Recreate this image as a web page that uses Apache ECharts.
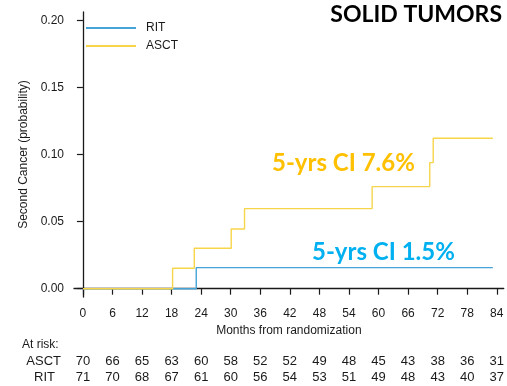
<!DOCTYPE html>
<html>
<head>
<meta charset="utf-8">
<script src="https://cdn.jsdelivr.net/npm/echarts@6/dist/echarts.min.js"></script>
<style>
html,body{margin:0;padding:0;background:#fff;}
#chart{width:507px;height:386px;}
</style>
</head>
<body>
<div id="chart"></div>
<script>
// Data
const monthTicks = [0, 6, 12, 18, 24, 30, 36, 42, 48, 54, 60, 66, 72, 78, 84];
const probTicks = [0, 0.05, 0.10, 0.15, 0.20];
const ritCurve = [[0, 0], [23.0, 0.0157], [83.2, 0.0157]];
const asctCurve = [[0, 0], [18.2, 0.0152], [22.6, 0.0301], [30.1, 0.0445], [32.8, 0.0597], [58.7, 0.0761], [70.4, 0.0940], [71.1, 0.1122], [83.2, 0.1122]];
const asctAtRisk = [70, 66, 65, 63, 60, 58, 52, 52, 49, 48, 45, 43, 38, 36, 31];
const ritAtRisk = [71, 70, 68, 67, 61, 60, 56, 54, 53, 51, 49, 48, 43, 40, 37];

const chart = echarts.init(document.getElementById('chart'));
const F = '"Liberation Sans", Arial, sans-serif';
const axisColor = '#1a1a1a';
const xMin = -1.813, xMax = 85.41;

function riskAxis(values, offset) {
  return {
    type: 'value', min: xMin, max: xMax, position: 'bottom', offset: offset,
    axisLine: {show: false}, axisTick: {show: false}, splitLine: {show: false},
    axisLabel: {
      customValues: monthTicks, margin: 0, fontFamily: F, fontSize: 13, color: '#1a1a1a',
      formatter: v => { const i = monthTicks.indexOf(Math.round(v)); return i >= 0 ? String(values[i]) : ''; }
    }
  };
}

chart.setOption({
  animation: false,
  grid: {left: 74, right: 0, top: 12, bottom: 89},
  legend: {
    data: ['RIT', 'ASCT'], orient: 'vertical', left: 85, top: 22, padding: 0,
    itemWidth: 50, itemHeight: 14, itemGap: 6,
    itemStyle: {opacity: 0},
    textStyle: {fontFamily: F, fontSize: 12, color: '#1a1a1a', padding: [0, 0, 0, 5]}
  },
  xAxis: [{
    type: 'value', min: xMin, max: xMax,
    name: 'Months from randomization', nameLocation: 'middle', nameGap: 23,
    nameTextStyle: {fontFamily: F, fontSize: 12, color: '#1a1a1a'},
    axisLine: {lineStyle: {color: axisColor, width: 1.3}},
    axisTick: {customValues: monthTicks, length: 6, lineStyle: {color: axisColor, width: 1.2}},
    axisLabel: {customValues: monthTicks, margin: 11, fontFamily: F, fontSize: 12, color: '#1a1a1a'},
    splitLine: {show: false}
  }, riskAxis(asctAtRisk, 58), riskAxis(ritAtRisk, 74)],
  yAxis: {
    type: 'value', min: -0.0062, max: 0.2063,
    name: 'Second Cancer (probability)', nameLocation: 'middle', nameGap: 40,
    nameTextStyle: {fontFamily: F, fontSize: 12, color: '#1a1a1a'},
    axisLine: {show: true, lineStyle: {color: axisColor, width: 1.3}},
    axisTick: {show: true, customValues: probTicks, length: 6, lineStyle: {color: axisColor, width: 1.2}},
    axisLabel: {customValues: probTicks, margin: 10, fontFamily: F, fontSize: 12, color: '#1a1a1a',
      formatter: v => v.toFixed(2)},
    splitLine: {show: false}
  },
  series: [
    {name: 'RIT', type: 'line', step: 'end', data: ritCurve, symbol: 'none',
      lineStyle: {color: '#45A3D8', width: 1.4}, itemStyle: {color: '#45A3D8'}},
    {name: 'ASCT', type: 'line', step: 'end', data: asctCurve, symbol: 'none',
      lineStyle: {color: '#F7D54A', width: 1.4}, itemStyle: {color: '#F7D54A'}}
  ],
  graphic: [
    {type: 'text', right: 5, top: 3, style: {text: 'SOLID TUMORS', font: 'bold 23px Lato, sans-serif', fill: '#000'}},
    {type: 'text', x: 272, y: 163.5, style: {text: '5-yrs CI 7.6%', font: 'bold 24px Lato, sans-serif', fill: '#FFC000', verticalAlign: 'middle'}},
    {type: 'text', x: 312, y: 252, style: {text: '5-yrs CI 1.5%', font: 'bold 24px Lato, sans-serif', fill: '#00B0F0', verticalAlign: 'middle'}},
    {type: 'text', x: 22, y: 345, style: {text: 'At risk:', font: '12px "Liberation Sans", Arial, sans-serif', fill: '#1a1a1a', verticalAlign: 'middle'}},
    {type: 'text', x: 61, y: 361, style: {text: 'ASCT', font: '13px "Liberation Sans", Arial, sans-serif', fill: '#1a1a1a', align: 'right', verticalAlign: 'middle'}},
    {type: 'text', x: 55, y: 377, style: {text: 'RIT', font: '13px "Liberation Sans", Arial, sans-serif', fill: '#1a1a1a', align: 'right', verticalAlign: 'middle'}}
  ]
});
</script>
</body>
</html>
